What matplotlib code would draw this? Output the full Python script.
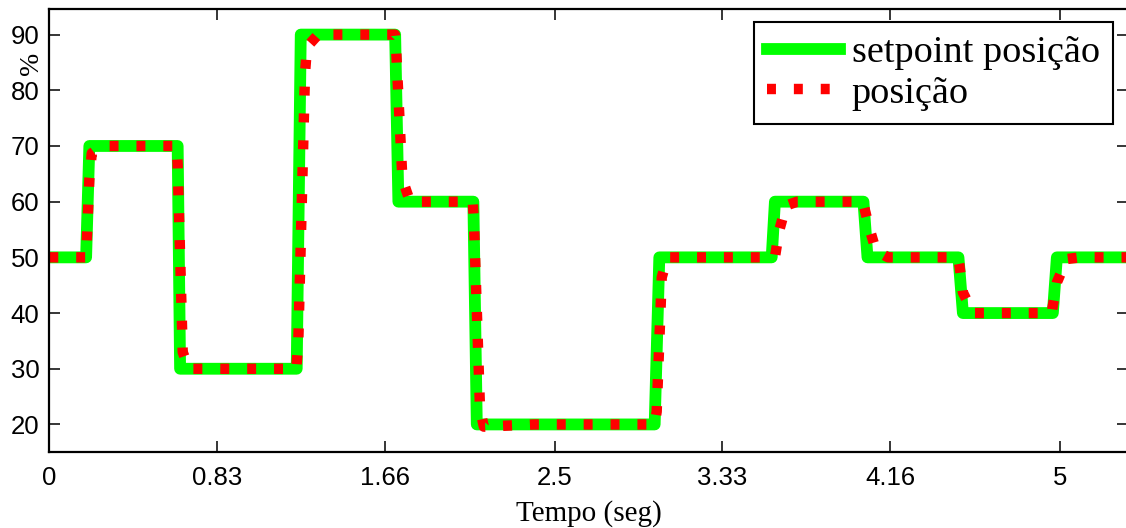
import matplotlib
matplotlib.use('Agg')
import matplotlib.pyplot as plt

# setpoint (step changes, each over a short ramp)
sp_time = [0, 0.182, 0.198, 0.635, 0.647, 1.224, 1.244, 1.711, 1.727, 2.098, 2.115,
           2.995, 3.018, 3.574, 3.59, 4.028, 4.048, 4.498, 4.52, 4.965, 4.985, 5.4]
sp_val = [50, 50, 70, 70, 30, 30, 90, 90, 60, 60, 20,
          20, 50, 50, 60, 60, 50, 50, 40, 40, 50, 50]

pos_time = [0, 0.182, 0.198, 0.21, 0.26,
            0.63, 0.635, 0.66, 0.69,
            1.222, 1.232, 1.265, 1.275, 1.33,
            1.71, 1.715, 1.747, 1.785,
            2.095, 2.101, 2.131, 2.15, 2.4,
            2.995, 3.005, 3.03, 3.058,
            3.59, 3.611, 3.645, 3.70,
            4.025, 4.056, 4.09, 4.15,
            4.495, 4.503, 4.52, 4.57,
            4.96, 4.963, 4.985, 5.034, 5.10, 5.4]
pos_val = [50, 50, 64, 68.7, 70,
           70, 66.6, 33, 30,
           30, 35, 83, 87.8, 90,
           90, 88, 64, 60,
           60, 56.3, 22.7, 19.6, 20,
           20, 22.3, 46.4, 50,
           50, 54.8, 59.3, 60,
           60, 55.4, 51.2, 50,
           50, 48.5, 43.7, 40,
           40, 40.9, 45.5, 49.7, 50, 50]

xticks = [0, 0.83, 1.66, 2.5, 3.33, 4.16, 5]
xtick_labels = ['0', '0.83', '1.66', '2.5', '3.33', '4.16', '5']
yticks = [20, 30, 40, 50, 60, 70, 80, 90]

fig = plt.figure(figsize=(11.26, 5.28), dpi=100)
ax = fig.add_axes([0.0438, 0.1434, 0.958, 0.8396])

ax.plot(sp_time, sp_val, color='#00ff00', lw=8.5, solid_joinstyle='round',
        label='setpoint posição')
ax.plot(pos_time, pos_val, color='#ff0000', lw=7.5, linestyle=(0, (0.86, 1.72)),
        label='posição')

ax.set_xlim(0, 5.337)
ax.set_ylim(15.0, 94.6)
ax.set_xticks(xticks)
ax.set_xticklabels(xtick_labels)
ax.set_yticks(yticks)
ax.tick_params(direction='in', length=8, width=1.1, top=True, right=True,
               labelsize=18.5)
ax.tick_params(axis='x', pad=10)
ax.tick_params(axis='y', pad=7)
for lab in ax.get_xticklabels() + ax.get_yticklabels():
    lab.set_fontfamily('Liberation Sans')
for sp in ax.spines.values():
    sp.set_linewidth(1.6)

ax.set_xlabel('Tempo (seg)', fontfamily='Liberation Serif', fontsize=21, labelpad=7)
ax.set_ylabel('%', fontfamily='Liberation Serif', fontsize=20)
ax.yaxis.set_label_coords(-0.0045, 0.877)

leg = ax.legend(loc='upper right', bbox_to_anchor=(1113 / 1126, 1 - 22 / 528),
                bbox_transform=fig.transFigure, borderaxespad=0,
                prop={'family': 'Liberation Serif', 'size': 27.5},
                handlelength=1.9, handletextpad=0.3, labelspacing=0.15,
                borderpad=0.35, fancybox=False, framealpha=1)
leg.get_frame().set_edgecolor('black')
leg.get_frame().set_linewidth(1.5)

fig.savefig('out.png', dpi=100)
